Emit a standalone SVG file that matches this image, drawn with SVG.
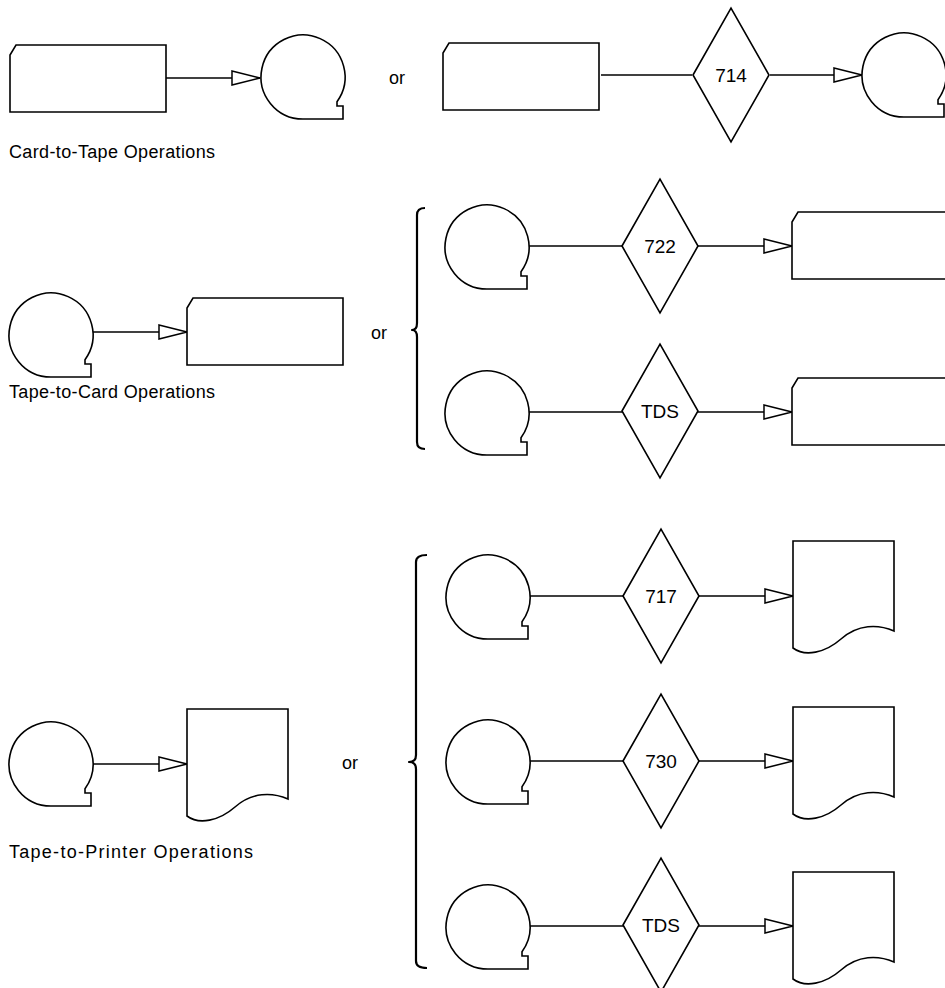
<svg xmlns="http://www.w3.org/2000/svg" xmlns:xlink="http://www.w3.org/1999/xlink" width="945" height="988" viewBox="0 0 945 988">
<style>
.s{fill:#fff;stroke:#000;stroke-width:1.6;stroke-linejoin:miter}
.c{fill:none;stroke:#000;stroke-width:1.4}
.b{fill:none;stroke:#000;stroke-width:2.2;stroke-linejoin:round}
.t{font-family:"Liberation Sans",Arial,sans-serif;font-size:19px;fill:#000;text-anchor:middle}
.l{font-family:"Liberation Sans",Arial,sans-serif;font-size:18px;fill:#000}
</style>
<defs>
<path id="tape" d="M34,24.7 A42,42 0 1 0 0,42 H40 V29 H34 Z"/>
<path id="card" d="M6,0 H156 V67 H0 V10 Z"/>
<path id="doc" d="M0,0 H101 V90 C85,83 65,83 48,98 C32,112 12,116 0,107 Z"/>
<polygon id="dia" points="-38,0 0,-67 38,0 0,67"/>
<marker id="ah" markerUnits="userSpaceOnUse" markerWidth="30" markerHeight="16" viewBox="0 0 30 16" refX="29" refY="8" orient="auto">
<path d="M1,1 L29,8 L1,15 Z" fill="#fff" stroke="#000" stroke-width="1.5"/>
</marker>
</defs>
<rect width="945" height="988" fill="#fff"/>

<g id="connectors">
<line class="c" x1="166" y1="78" x2="260" y2="78" marker-end="url(#ah)"/>
<line class="c" x1="601" y1="75" x2="692" y2="75"/>
<line class="c" x1="770" y1="75" x2="862" y2="75" marker-end="url(#ah)"/>
<line class="c" x1="93" y1="332" x2="187" y2="332" marker-end="url(#ah)"/>
<line class="c" x1="529" y1="246" x2="622" y2="246"/>
<line class="c" x1="698" y1="246" x2="792" y2="246" marker-end="url(#ah)"/>
<line class="c" x1="529" y1="412" x2="622" y2="412"/>
<line class="c" x1="698" y1="412" x2="792" y2="412" marker-end="url(#ah)"/>
<line class="c" x1="93" y1="764" x2="187" y2="764" marker-end="url(#ah)"/>
<line class="c" x1="530" y1="596" x2="623" y2="596"/>
<line class="c" x1="699" y1="596" x2="793" y2="596" marker-end="url(#ah)"/>
<line class="c" x1="530" y1="761" x2="623" y2="761"/>
<line class="c" x1="699" y1="761" x2="793" y2="761" marker-end="url(#ah)"/>
<line class="c" x1="530" y1="926" x2="623" y2="926"/>
<line class="c" x1="699" y1="926" x2="793" y2="926" marker-end="url(#ah)"/>
</g>

<!-- Row 1 -->
<g id="r1-card"><use class="s" href="#card" xlink:href="#card" x="10" y="45"/></g>
<g id="r1-tape"><use class="s" href="#tape" xlink:href="#tape" x="303" y="77"/></g>
<text class="l" x="9" y="158" textLength="206" lengthAdjust="spacing">Card-to-Tape Operations</text>
<text class="l" x="389" y="84">or</text>
<g id="r1b-card"><use class="s" href="#card" xlink:href="#card" x="443" y="43"/></g>
<g id="r1b-714"><use class="s" href="#dia" xlink:href="#dia" x="731" y="75"/><text class="t" x="731" y="82">714</text></g>
<g id="r1b-tape"><use class="s" href="#tape" xlink:href="#tape" x="904" y="75"/></g>

<!-- Row 2 -->
<g id="r2-tape"><use class="s" href="#tape" xlink:href="#tape" x="51" y="335"/></g>
<g id="r2-card"><use class="s" href="#card" xlink:href="#card" x="187" y="298"/></g>
<text class="l" x="9" y="398" textLength="206" lengthAdjust="spacing">Tape-to-Card Operations</text>
<text class="l" x="371" y="339">or</text>
<path class="b" d="M425,208 Q417,208 417,215 V323 Q417,330 412,330 Q417,330 417,337 V442 Q417,449 425,449"/>
<g id="r2a-tape"><use class="s" href="#tape" xlink:href="#tape" x="487" y="247"/></g>
<g id="r2a-722"><use class="s" href="#dia" xlink:href="#dia" x="660" y="246"/><text class="t" x="660" y="253">722</text></g>
<g id="r2a-card"><use class="s" href="#card" xlink:href="#card" x="792" y="212"/></g>
<g id="r2b-tape"><use class="s" href="#tape" xlink:href="#tape" x="487" y="413"/></g>
<g id="r2b-tds"><use class="s" href="#dia" xlink:href="#dia" x="660" y="411"/><text class="t" x="660" y="418">TDS</text></g>
<g id="r2b-card"><use class="s" href="#card" xlink:href="#card" x="792" y="378"/></g>

<!-- Row 3 -->
<g id="r3-tape"><use class="s" href="#tape" xlink:href="#tape" x="51" y="764"/></g>
<g id="r3-doc"><use class="s" href="#doc" xlink:href="#doc" x="187" y="709"/></g>
<text class="l" x="9" y="858" textLength="244" lengthAdjust="spacing">Tape-to-Printer Operations</text>
<text class="l" x="342" y="769">or</text>
<path class="b" d="M427,555 Q416,555 416,562 V755 Q416,762 409,762 Q416,762 416,769 V961 Q416,968 427,968"/>
<g id="r3a-tape"><use class="s" href="#tape" xlink:href="#tape" x="488" y="597"/></g>
<g id="r3a-717"><use class="s" href="#dia" xlink:href="#dia" x="661" y="596"/><text class="t" x="661" y="603">717</text></g>
<g id="r3a-doc"><use class="s" href="#doc" xlink:href="#doc" x="793" y="541"/></g>
<g id="r3b-tape"><use class="s" href="#tape" xlink:href="#tape" x="488" y="762"/></g>
<g id="r3b-730"><use class="s" href="#dia" xlink:href="#dia" x="661" y="761"/><text class="t" x="661" y="768">730</text></g>
<g id="r3b-doc"><use class="s" href="#doc" xlink:href="#doc" x="793" y="707"/></g>
<g id="r3c-tape"><use class="s" href="#tape" xlink:href="#tape" x="488" y="927"/></g>
<g id="r3c-tds"><use class="s" href="#dia" xlink:href="#dia" x="661" y="925"/><text class="t" x="661" y="932">TDS</text></g>
<g id="r3c-doc"><use class="s" href="#doc" xlink:href="#doc" x="793" y="872"/></g>
</svg>
